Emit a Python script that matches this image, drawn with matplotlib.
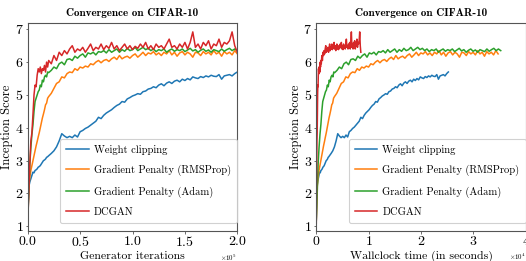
import numpy as np
import matplotlib
matplotlib.use("Agg")
import matplotlib.pyplot as plt

from matplotlib import rc
rc('font', **{'family': 'cmr10', 'size': 10})
rc('mathtext', fontset='cm')
plt.rcParams['axes.formatter.use_mathtext'] = True

# generator iterations (x 1e5 later via formatter)
iters = list(range(0, 20000, 1000)) + list(range(20000, 200001, 2500))

# total wallclock time of each run (seconds)
wall_total = {'wc': 2.52e4, 'rms': 3.47e4, 'adam': 3.52e4, 'dcgan': 0.85e4}

score_wc = [
    1.2, 2.2, 2.35, 2.45, 2.55, 2.65, 2.63, 2.7, 2.72, 2.75,
    2.8, 2.82, 2.85, 2.9, 2.95, 3.0, 3.02, 3.05, 3.1, 3.12,
    3.15, 3.22, 3.30, 3.42, 3.60, 3.82, 3.75, 3.70, 3.74, 3.70,
    3.78, 3.72, 3.88, 3.92, 3.98, 4.02, 4.08, 4.14, 4.20, 4.32,
    4.28, 4.38, 4.45, 4.50, 4.55, 4.62, 4.68, 4.72, 4.80, 4.78,
    4.88, 4.92, 4.97, 5.00, 5.04, 5.02, 5.10, 5.12, 5.18, 5.20,
    5.25, 5.22, 5.30, 5.34, 5.28, 5.36, 5.40, 5.35, 5.42, 5.45,
    5.40, 5.48, 5.44, 5.50, 5.46, 5.55, 5.52, 5.50, 5.56, 5.53,
    5.58, 5.55, 5.60, 5.57, 5.56, 5.62, 5.48, 5.58, 5.60, 5.62,
    5.58, 5.65, 5.70]

score_rms = [
    1.2, 2.2, 2.5, 2.7, 2.85, 3.0, 3.15, 3.3, 3.45, 3.58,
    3.72, 3.85, 4.0, 4.15, 4.3, 4.42, 4.55, 4.7, 4.75, 4.9,
    4.95, 5.05, 5.2, 5.35, 5.4, 5.55, 5.52, 5.65, 5.7, 5.68,
    5.8, 5.75, 5.85, 5.82, 5.88, 5.85, 5.95, 5.92, 6.0, 6.05,
    5.98, 6.05, 6.08, 6.02, 6.1, 6.15, 6.08, 6.2, 6.1, 6.15,
    6.18, 6.12, 6.2, 6.25, 6.15, 6.22, 6.3, 6.2, 6.28, 6.25,
    6.32, 6.22, 6.28, 6.2, 6.3, 6.25, 6.35, 6.22, 6.3, 6.18,
    6.28, 6.32, 6.22, 6.3, 6.25, 6.15, 6.3, 6.28, 6.2, 6.32,
    6.25, 6.3, 6.22, 6.35, 6.25, 6.3, 6.18, 6.32, 6.25, 6.3,
    6.22, 6.35, 6.25]

score_adam = [
    1.2, 2.0, 2.9, 3.4, 3.8, 4.1, 4.5, 4.8, 4.9, 5.0,
    5.1, 5.15, 5.3, 5.25, 5.45, 5.4, 5.55, 5.6, 5.55, 5.7,
    5.68, 5.75, 5.85, 5.8, 5.95, 6.0, 5.92, 6.08, 6.1, 6.05,
    6.18, 6.12, 6.2, 6.25, 6.15, 6.28, 6.25, 6.3, 6.22, 6.32,
    6.3, 6.35, 6.28, 6.38, 6.3, 6.35, 6.4, 6.3, 6.38, 6.33,
    6.42, 6.35, 6.38, 6.45, 6.35, 6.4, 6.45, 6.38, 6.42, 6.35,
    6.4, 6.32, 6.38, 6.35, 6.4, 6.3, 6.36, 6.4, 6.33, 6.38,
    6.35, 6.4, 6.32, 6.37, 6.42, 6.34, 6.38, 6.3, 6.36, 6.4,
    6.33, 6.37, 6.3, 6.38, 6.35, 6.32, 6.4, 6.33, 6.38, 6.42,
    6.35, 6.4, 6.35]

score_dcgan = [
    1.1, 2.0, 2.9, 3.6, 3.85, 4.4, 5.0, 5.3, 5.25, 5.6,
    5.8, 5.7, 5.85, 5.65, 5.8, 5.75, 5.9, 5.7, 6.0, 5.85,
    6.05, 5.95, 6.2, 6.05, 6.3, 6.2, 6.35, 6.25, 6.4, 6.5,
    6.3, 6.4, 6.35, 6.45, 6.3, 6.42, 6.55, 6.35, 6.45, 6.4,
    6.55, 6.38, 6.5, 6.42, 6.6, 6.4, 6.5, 6.35, 6.45, 6.55,
    6.4, 6.5, 6.38, 6.48, 6.42, 6.55, 6.45, 6.6, 6.4, 6.5,
    6.38, 6.55, 6.45, 6.5, 6.4, 6.55, 6.7, 6.45, 6.5, 6.4,
    6.55, 6.45, 6.6, 6.4, 6.6, 6.92, 6.45, 6.55, 6.4, 6.6,
    6.5, 6.65, 6.4, 6.55, 6.5, 6.7, 6.45, 6.6, 6.55, 6.65,
    6.92, 6.5, 6.3]

labels = ["Weight clipping", "Gradient Penalty (RMSProp)",
          "Gradient Penalty (Adam)", "DCGAN"]
keys = ['wc', 'rms', 'adam', 'dcgan']
scores = [score_wc, score_rms, score_adam, score_dcgan]
colors = ['#1f77b4', '#ff7f0e', '#2ca02c', '#d62728']


def style(ax, xlabel):
    ax.set_title("Convergence on CIFAR-10", fontfamily='cmb10', fontsize=8, pad=5)
    ax.set_xlabel(xlabel, fontsize=8.5, labelpad=2)
    ax.set_ylabel("Inception Score", fontsize=9, labelpad=1)
    ax.set_ylim(0.866, 7.2)
    ax.set_yticks([1, 2, 3, 4, 5, 6, 7])
    ax.ticklabel_format(style='sci', axis='x', scilimits=(0, 0))
    ax.xaxis.get_offset_text().set_fontsize(5)
    ax.tick_params(labelsize=10, length=1.8, width=0.6, pad=1.2, color='#555555')
    for sp in ax.spines.values():
        sp.set_color('#555555')
        sp.set_linewidth(0.8)
    leg = ax.legend(loc='lower right', bbox_to_anchor=(1.0, 0.035), fontsize=7.6,
                    borderaxespad=0.0, handlelength=2.1, handletextpad=0.5,
                    labelspacing=0.95, borderpad=0.6, fancybox=True, framealpha=0.9)
    leg.get_frame().set_edgecolor('#cccccc')
    leg.get_frame().set_linewidth(0.8)


fig = plt.figure(figsize=(5.26, 2.61), dpi=100)
ax1 = fig.add_axes([0.0527, 0.116, 0.3985, 0.797])
ax2 = fig.add_axes([0.6013, 0.116, 0.3985, 0.797])

for key, s, lab, c in zip(keys, scores, labels, colors):
    ax1.plot(iters, s, color=c, lw=1.1, label=lab)
    t = np.array(iters) * (wall_total[key] / iters[-1])
    ax2.plot(t, s, color=c, lw=1.1, label=lab)

ax1.set_xlim(0, 2.0e5)
ax2.set_xlim(0, 4.0e4)
ax2.set_xticks([0, 1e4, 2e4, 3e4, 4e4])
style(ax1, "Generator iterations")
style(ax2, "Wallclock time (in seconds)")

plt.savefig("out.png", dpi=100)
plt.close()
